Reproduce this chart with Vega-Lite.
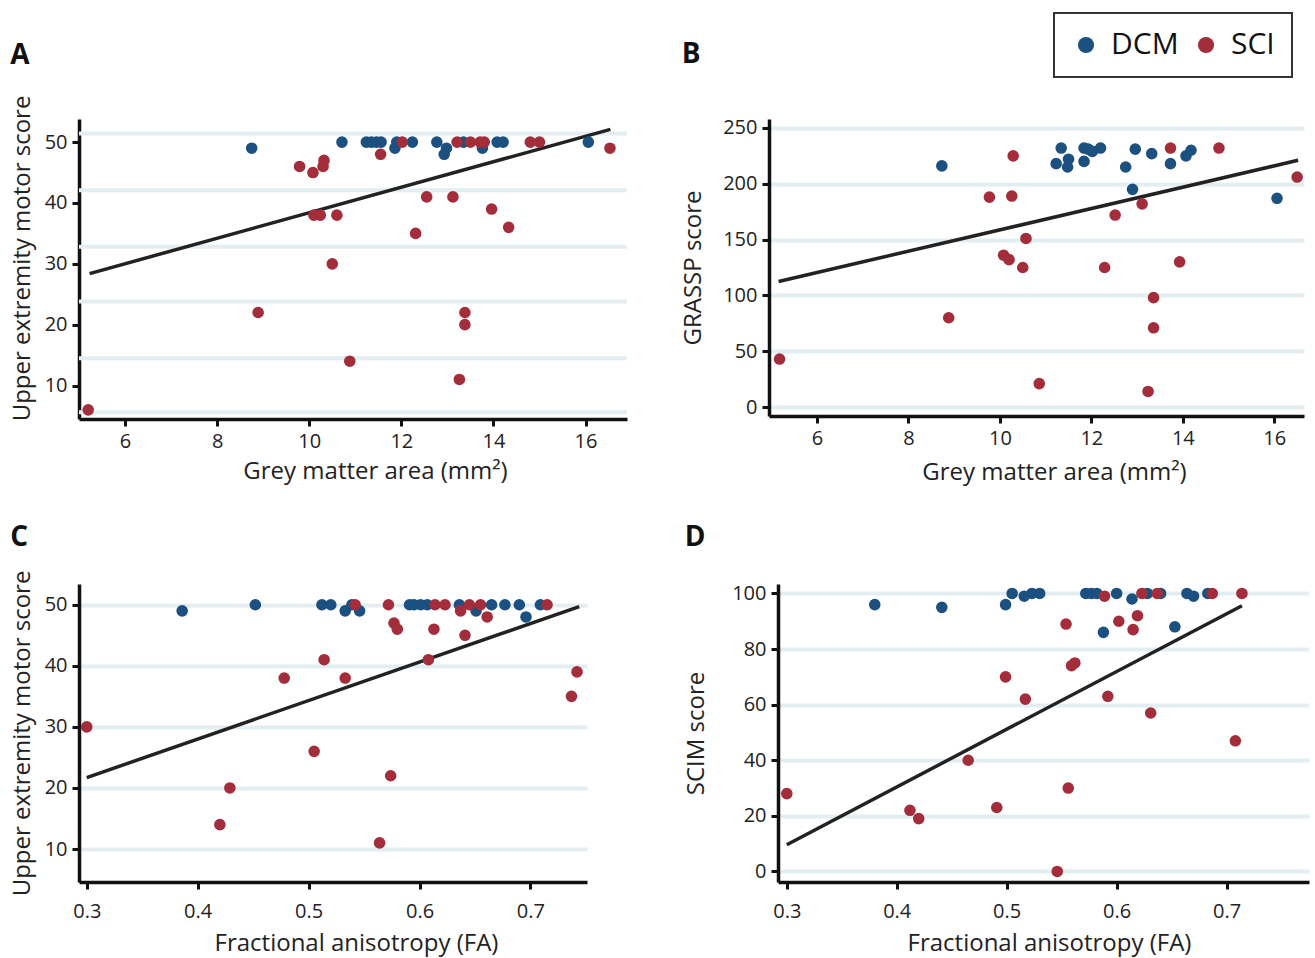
{
  "$schema": "https://vega.github.io/schema/vega-lite/v6.json",
  "background": "white",
  "padding": {"left": 10, "top": 12, "right": 5, "bottom": 5},
  "spacing": 40,
  "datasets": {
    "pts": [
      {"panel": "A", "group": "DCM", "x": 8.75, "y": 49}, {"panel": "A", "group": "DCM", "x": 10.71, "y": 50}, {"panel": "A", "group": "DCM", "x": 11.24, "y": 50}, {"panel": "A", "group": "DCM", "x": 11.35, "y": 50}, {"panel": "A", "group": "DCM", "x": 11.46, "y": 50}, {"panel": "A", "group": "DCM", "x": 11.56, "y": 50}, {"panel": "A", "group": "DCM", "x": 11.86, "y": 49}, {"panel": "A", "group": "DCM", "x": 11.9, "y": 50}, {"panel": "A", "group": "DCM", "x": 12.24, "y": 50}, {"panel": "A", "group": "DCM", "x": 12.77, "y": 50}, {"panel": "A", "group": "DCM", "x": 12.98, "y": 49}, {"panel": "A", "group": "DCM", "x": 12.93, "y": 48}, {"panel": "A", "group": "DCM", "x": 13.35, "y": 50}, {"panel": "A", "group": "DCM", "x": 13.76, "y": 49}, {"panel": "A", "group": "DCM", "x": 14.08, "y": 50}, {"panel": "A", "group": "DCM", "x": 14.21, "y": 50}, {"panel": "A", "group": "DCM", "x": 16.06, "y": 50},
      {"panel": "A", "group": "SCI", "x": 12.02, "y": 50}, {"panel": "A", "group": "SCI", "x": 13.21, "y": 50}, {"panel": "A", "group": "SCI", "x": 13.5, "y": 50}, {"panel": "A", "group": "SCI", "x": 13.71, "y": 50}, {"panel": "A", "group": "SCI", "x": 13.8, "y": 50}, {"panel": "A", "group": "SCI", "x": 14.8, "y": 50}, {"panel": "A", "group": "SCI", "x": 15.0, "y": 50}, {"panel": "A", "group": "SCI", "x": 16.53, "y": 49}, {"panel": "A", "group": "SCI", "x": 11.55, "y": 48}, {"panel": "A", "group": "SCI", "x": 9.79, "y": 46}, {"panel": "A", "group": "SCI", "x": 10.08, "y": 45}, {"panel": "A", "group": "SCI", "x": 10.3, "y": 46}, {"panel": "A", "group": "SCI", "x": 10.32, "y": 47}, {"panel": "A", "group": "SCI", "x": 12.55, "y": 41}, {"panel": "A", "group": "SCI", "x": 13.12, "y": 41}, {"panel": "A", "group": "SCI", "x": 13.96, "y": 39}, {"panel": "A", "group": "SCI", "x": 10.1, "y": 38}, {"panel": "A", "group": "SCI", "x": 10.24, "y": 38}, {"panel": "A", "group": "SCI", "x": 10.6, "y": 38}, {"panel": "A", "group": "SCI", "x": 14.33, "y": 36}, {"panel": "A", "group": "SCI", "x": 12.31, "y": 35}, {"panel": "A", "group": "SCI", "x": 10.5, "y": 30}, {"panel": "A", "group": "SCI", "x": 8.89, "y": 22}, {"panel": "A", "group": "SCI", "x": 13.38, "y": 22}, {"panel": "A", "group": "SCI", "x": 13.38, "y": 20}, {"panel": "A", "group": "SCI", "x": 10.88, "y": 14}, {"panel": "A", "group": "SCI", "x": 13.26, "y": 11}, {"panel": "A", "group": "SCI", "x": 5.2, "y": 6},
      {"panel": "B", "group": "DCM", "x": 8.73, "y": 216}, {"panel": "B", "group": "DCM", "x": 11.23, "y": 218}, {"panel": "B", "group": "DCM", "x": 11.34, "y": 232}, {"panel": "B", "group": "DCM", "x": 11.5, "y": 222}, {"panel": "B", "group": "DCM", "x": 11.48, "y": 215}, {"panel": "B", "group": "DCM", "x": 11.84, "y": 220}, {"panel": "B", "group": "DCM", "x": 11.84, "y": 232}, {"panel": "B", "group": "DCM", "x": 11.93, "y": 231}, {"panel": "B", "group": "DCM", "x": 12.02, "y": 229}, {"panel": "B", "group": "DCM", "x": 12.2, "y": 232}, {"panel": "B", "group": "DCM", "x": 12.75, "y": 215}, {"panel": "B", "group": "DCM", "x": 12.96, "y": 231}, {"panel": "B", "group": "DCM", "x": 12.9, "y": 195}, {"panel": "B", "group": "DCM", "x": 13.32, "y": 227}, {"panel": "B", "group": "DCM", "x": 13.73, "y": 218}, {"panel": "B", "group": "DCM", "x": 14.07, "y": 225}, {"panel": "B", "group": "DCM", "x": 14.18, "y": 230}, {"panel": "B", "group": "DCM", "x": 16.06, "y": 187},
      {"panel": "B", "group": "SCI", "x": 10.29, "y": 225}, {"panel": "B", "group": "SCI", "x": 13.73, "y": 232}, {"panel": "B", "group": "SCI", "x": 14.79, "y": 232}, {"panel": "B", "group": "SCI", "x": 16.5, "y": 206}, {"panel": "B", "group": "SCI", "x": 9.77, "y": 188}, {"panel": "B", "group": "SCI", "x": 10.26, "y": 189}, {"panel": "B", "group": "SCI", "x": 13.11, "y": 182}, {"panel": "B", "group": "SCI", "x": 12.52, "y": 172}, {"panel": "B", "group": "SCI", "x": 10.57, "y": 151}, {"panel": "B", "group": "SCI", "x": 10.08, "y": 136}, {"panel": "B", "group": "SCI", "x": 10.2, "y": 132}, {"panel": "B", "group": "SCI", "x": 10.5, "y": 125}, {"panel": "B", "group": "SCI", "x": 12.29, "y": 125}, {"panel": "B", "group": "SCI", "x": 13.93, "y": 130}, {"panel": "B", "group": "SCI", "x": 13.36, "y": 98}, {"panel": "B", "group": "SCI", "x": 13.36, "y": 71}, {"panel": "B", "group": "SCI", "x": 8.88, "y": 80}, {"panel": "B", "group": "SCI", "x": 5.18, "y": 43}, {"panel": "B", "group": "SCI", "x": 10.86, "y": 21}, {"panel": "B", "group": "SCI", "x": 13.24, "y": 14},
      {"panel": "C", "group": "DCM", "x": 0.386, "y": 49}, {"panel": "C", "group": "DCM", "x": 0.452, "y": 50}, {"panel": "C", "group": "DCM", "x": 0.512, "y": 50}, {"panel": "C", "group": "DCM", "x": 0.52, "y": 50}, {"panel": "C", "group": "DCM", "x": 0.533, "y": 49}, {"panel": "C", "group": "DCM", "x": 0.539, "y": 50}, {"panel": "C", "group": "DCM", "x": 0.546, "y": 49}, {"panel": "C", "group": "DCM", "x": 0.591, "y": 50}, {"panel": "C", "group": "DCM", "x": 0.595, "y": 50}, {"panel": "C", "group": "DCM", "x": 0.601, "y": 50}, {"panel": "C", "group": "DCM", "x": 0.607, "y": 50}, {"panel": "C", "group": "DCM", "x": 0.636, "y": 50}, {"panel": "C", "group": "DCM", "x": 0.651, "y": 49}, {"panel": "C", "group": "DCM", "x": 0.665, "y": 50}, {"panel": "C", "group": "DCM", "x": 0.677, "y": 50}, {"panel": "C", "group": "DCM", "x": 0.69, "y": 50}, {"panel": "C", "group": "DCM", "x": 0.696, "y": 48}, {"panel": "C", "group": "DCM", "x": 0.709, "y": 50},
      {"panel": "C", "group": "SCI", "x": 0.542, "y": 50}, {"panel": "C", "group": "SCI", "x": 0.572, "y": 50}, {"panel": "C", "group": "SCI", "x": 0.614, "y": 50}, {"panel": "C", "group": "SCI", "x": 0.623, "y": 50}, {"panel": "C", "group": "SCI", "x": 0.645, "y": 50}, {"panel": "C", "group": "SCI", "x": 0.655, "y": 50}, {"panel": "C", "group": "SCI", "x": 0.715, "y": 50}, {"panel": "C", "group": "SCI", "x": 0.637, "y": 49}, {"panel": "C", "group": "SCI", "x": 0.661, "y": 48}, {"panel": "C", "group": "SCI", "x": 0.577, "y": 47}, {"panel": "C", "group": "SCI", "x": 0.58, "y": 46}, {"panel": "C", "group": "SCI", "x": 0.613, "y": 46}, {"panel": "C", "group": "SCI", "x": 0.641, "y": 45}, {"panel": "C", "group": "SCI", "x": 0.514, "y": 41}, {"panel": "C", "group": "SCI", "x": 0.608, "y": 41}, {"panel": "C", "group": "SCI", "x": 0.478, "y": 38}, {"panel": "C", "group": "SCI", "x": 0.533, "y": 38}, {"panel": "C", "group": "SCI", "x": 0.742, "y": 39}, {"panel": "C", "group": "SCI", "x": 0.737, "y": 35}, {"panel": "C", "group": "SCI", "x": 0.3, "y": 30}, {"panel": "C", "group": "SCI", "x": 0.505, "y": 26}, {"panel": "C", "group": "SCI", "x": 0.574, "y": 22}, {"panel": "C", "group": "SCI", "x": 0.429, "y": 20}, {"panel": "C", "group": "SCI", "x": 0.42, "y": 14}, {"panel": "C", "group": "SCI", "x": 0.564, "y": 11},
      {"panel": "D", "group": "DCM", "x": 0.38, "y": 96}, {"panel": "D", "group": "DCM", "x": 0.441, "y": 95}, {"panel": "D", "group": "DCM", "x": 0.499, "y": 96}, {"panel": "D", "group": "DCM", "x": 0.505, "y": 100}, {"panel": "D", "group": "DCM", "x": 0.516, "y": 99}, {"panel": "D", "group": "DCM", "x": 0.523, "y": 100}, {"panel": "D", "group": "DCM", "x": 0.53, "y": 100}, {"panel": "D", "group": "DCM", "x": 0.572, "y": 100}, {"panel": "D", "group": "DCM", "x": 0.577, "y": 100}, {"panel": "D", "group": "DCM", "x": 0.582, "y": 100}, {"panel": "D", "group": "DCM", "x": 0.6, "y": 100}, {"panel": "D", "group": "DCM", "x": 0.588, "y": 86}, {"panel": "D", "group": "DCM", "x": 0.614, "y": 98}, {"panel": "D", "group": "DCM", "x": 0.628, "y": 100}, {"panel": "D", "group": "DCM", "x": 0.64, "y": 100}, {"panel": "D", "group": "DCM", "x": 0.653, "y": 88}, {"panel": "D", "group": "DCM", "x": 0.664, "y": 100}, {"panel": "D", "group": "DCM", "x": 0.67, "y": 99}, {"panel": "D", "group": "DCM", "x": 0.683, "y": 100},
      {"panel": "D", "group": "SCI", "x": 0.589, "y": 99}, {"panel": "D", "group": "SCI", "x": 0.623, "y": 100}, {"panel": "D", "group": "SCI", "x": 0.637, "y": 100}, {"panel": "D", "group": "SCI", "x": 0.687, "y": 100}, {"panel": "D", "group": "SCI", "x": 0.714, "y": 100}, {"panel": "D", "group": "SCI", "x": 0.554, "y": 89}, {"panel": "D", "group": "SCI", "x": 0.602, "y": 90}, {"panel": "D", "group": "SCI", "x": 0.619, "y": 92}, {"panel": "D", "group": "SCI", "x": 0.615, "y": 87}, {"panel": "D", "group": "SCI", "x": 0.559, "y": 74}, {"panel": "D", "group": "SCI", "x": 0.562, "y": 75}, {"panel": "D", "group": "SCI", "x": 0.499, "y": 70}, {"panel": "D", "group": "SCI", "x": 0.517, "y": 62}, {"panel": "D", "group": "SCI", "x": 0.592, "y": 63}, {"panel": "D", "group": "SCI", "x": 0.631, "y": 57}, {"panel": "D", "group": "SCI", "x": 0.708, "y": 47}, {"panel": "D", "group": "SCI", "x": 0.465, "y": 40}, {"panel": "D", "group": "SCI", "x": 0.3, "y": 28}, {"panel": "D", "group": "SCI", "x": 0.556, "y": 30}, {"panel": "D", "group": "SCI", "x": 0.412, "y": 22}, {"panel": "D", "group": "SCI", "x": 0.42, "y": 19}, {"panel": "D", "group": "SCI", "x": 0.491, "y": 23}, {"panel": "D", "group": "SCI", "x": 0.546, "y": 0}
    ],
    "fit": [
      {"panel": "A", "x": 5.23, "y": 28.4}, {"panel": "A", "x": 16.54, "y": 52.1},
      {"panel": "B", "x": 5.16, "y": 112.5}, {"panel": "B", "x": 16.52, "y": 221},
      {"panel": "C", "x": 0.3, "y": 21.7}, {"panel": "C", "x": 0.744, "y": 49.7},
      {"panel": "D", "x": 0.3, "y": 9.6}, {"panel": "D", "x": 0.714, "y": 95.6}
    ],
    "gridA": [{"y": 51.4}, {"y": 42.1}, {"y": 32.8}, {"y": 23.8}, {"y": 14.5}, {"y": 5.6}]
  },
  "vconcat": [
    {
      "bounds": "flush",
      "spacing": 142,
      "hconcat": [
        {
          "width": 548, "height": 300,
          "title": {"text": "A", "offset": 22},
          "layer": [
            {"data": {"name": "gridA"}, "mark": {"type": "rule", "color": "#e3eef3", "strokeWidth": 4}, "encoding": {"y": {"field": "y", "type": "quantitative"}}},
            {"data": {"name": "fit"}, "transform": [{"filter": "datum.panel === 'A'"}], "mark": {"type": "line", "color": "#222222", "strokeWidth": 3.5}, "encoding": {"x": {"field": "x", "type": "quantitative"}, "y": {"field": "y", "type": "quantitative"}}},
            {"data": {"name": "pts"}, "transform": [{"filter": "datum.panel === 'A'"}], "mark": {"type": "circle", "size": 135, "opacity": 1},
             "encoding": {
               "x": {"field": "x", "type": "quantitative", "scale": {"domain": [5, 16.9], "nice": false, "zero": false}, "axis": {"values": [6, 8, 10, 12, 14, 16], "title": "Grey matter area (mm²)", "titleX": 296, "titlePadding": 8}},
               "y": {"field": "y", "type": "quantitative", "scale": {"domain": [4.5, 53.8], "nice": false, "zero": false}, "axis": {"values": [10, 20, 30, 40, 50], "title": "Upper extremity  motor score", "titlePadding": 10, "titleY": 139}},
               "color": {"field": "group", "type": "nominal", "scale": {"domain": ["DCM", "SCI"], "range": ["#1b5080", "#a32d3a"]}, "legend": {"orient": "none", "legendX": 975, "legendY": -106, "direction": "horizontal", "title": null}}
             }}
          ]
        },
        {
          "width": 535, "height": 297,
          "title": {"text": "B", "offset": 49},
          "layer": [
            {"data": {"name": "fit"}, "transform": [{"filter": "datum.panel === 'B'"}], "mark": {"type": "line", "color": "#222222", "strokeWidth": 3.5}, "encoding": {"x": {"field": "x", "type": "quantitative"}, "y": {"field": "y", "type": "quantitative"}}},
            {"data": {"name": "pts"}, "transform": [{"filter": "datum.panel === 'B'"}], "mark": {"type": "circle", "size": 135, "opacity": 1},
             "encoding": {
               "x": {"field": "x", "type": "quantitative", "scale": {"domain": [4.95, 16.65], "nice": false, "zero": false}, "axis": {"values": [6, 8, 10, 12, 14, 16], "title": "Grey matter area (mm²)", "titleX": 285, "titlePadding": 12}},
               "y": {"field": "y", "type": "quantitative", "scale": {"domain": [-8, 258], "nice": false, "zero": false}, "axis": {"values": [0, 50, 100, 150, 200, 250], "title": "GRASSP score", "titlePadding": 17, "grid": true}},
               "color": {"field": "group", "type": "nominal", "scale": {"domain": ["DCM", "SCI"], "range": ["#1b5080", "#a32d3a"]}, "legend": {"orient": "none", "legendX": 975, "legendY": -106, "direction": "horizontal", "title": null}}
             }}
          ]
        }
      ]
    },
    {
      "bounds": "flush",
      "spacing": 191,
      "hconcat": [
        {
          "width": 508, "height": 298,
          "title": {"text": "C", "offset": 18},
          "layer": [
            {"data": {"name": "fit"}, "transform": [{"filter": "datum.panel === 'C'"}], "mark": {"type": "line", "color": "#222222", "strokeWidth": 3.5}, "encoding": {"x": {"field": "x", "type": "quantitative"}, "y": {"field": "y", "type": "quantitative"}}},
            {"data": {"name": "pts"}, "transform": [{"filter": "datum.panel === 'C'"}], "mark": {"type": "circle", "size": 135, "opacity": 1},
             "encoding": {
               "x": {"field": "x", "type": "quantitative", "scale": {"domain": [0.293, 0.751], "nice": false, "zero": false}, "axis": {"values": [0.3, 0.4, 0.5, 0.6, 0.7], "format": ".1f", "title": "Fractional anisotropy (FA)", "titleX": 277, "labelPadding": 12, "titlePadding": 10}},
               "y": {"field": "y", "type": "quantitative", "scale": {"domain": [4.6, 53.4], "nice": false, "zero": false}, "axis": {"values": [10, 20, 30, 40, 50], "title": "Upper extremity motor score", "titlePadding": 10, "titleY": 149, "grid": true}},
               "color": {"field": "group", "type": "nominal", "scale": {"domain": ["DCM", "SCI"], "range": ["#1b5080", "#a32d3a"]}, "legend": {"orient": "none", "legendX": 975, "legendY": -106, "direction": "horizontal", "title": null}}
             }}
          ]
        },
        {
          "width": 531, "height": 298,
          "title": {"text": "D", "offset": 31},
          "layer": [
            {"data": {"name": "fit"}, "transform": [{"filter": "datum.panel === 'D'"}], "mark": {"type": "line", "color": "#222222", "strokeWidth": 3.5}, "encoding": {"x": {"field": "x", "type": "quantitative"}, "y": {"field": "y", "type": "quantitative"}}},
            {"data": {"name": "pts"}, "transform": [{"filter": "datum.panel === 'D'"}], "mark": {"type": "circle", "size": 135, "opacity": 1},
             "encoding": {
               "x": {"field": "x", "type": "quantitative", "scale": {"domain": [0.292, 0.775], "nice": false, "zero": false}, "axis": {"values": [0.3, 0.4, 0.5, 0.6, 0.7], "format": ".1f", "title": "Fractional anisotropy (FA)", "titleX": 271, "labelPadding": 12, "titlePadding": 10}},
               "y": {"field": "y", "type": "quantitative", "scale": {"domain": [-3.8, 103.4], "nice": false, "zero": false}, "axis": {"values": [0, 20, 40, 60, 80, 100], "title": "SCIM score", "titlePadding": 23, "grid": true}},
               "color": {"field": "group", "type": "nominal", "scale": {"domain": ["DCM", "SCI"], "range": ["#1b5080", "#a32d3a"]}, "legend": {"orient": "none", "legendX": 975, "legendY": -106, "direction": "horizontal", "title": null}}
             }}
          ]
        }
      ]
    }
  ],
  "config": {
    "view": {"stroke": null},
    "title": {"anchor": "start", "frame": "bounds", "font": "Open Sans", "fontSize": 28, "fontWeight": "bold", "color": "#111111"},
    "axis": {
      "domainColor": "#111111", "domainWidth": 3.5,
      "tickColor": "#111111", "tickWidth": 3, "tickSize": 7,
      "labelFont": "Open Sans", "labelFontSize": 20, "labelColor": "#222222", "labelPadding": 5,
      "titleFont": "Open Sans", "titleFontSize": 24, "titleColor": "#222222", "titleFontWeight": "normal", "titlePadding": 6,
      "grid": false, "gridColor": "#e3eef3", "gridWidth": 4
    },
    "legend": {
      "strokeColor": "#333333", "strokeWidth": 2, "fillColor": "white", "padding": 17,
      "labelFont": "Open Sans", "labelFontSize": 30, "labelColor": "#111111",
      "symbolType": "circle", "symbolSize": 260, "symbolStrokeWidth": 0, "symbolOpacity": 1,
      "columnPadding": 12, "labelOffset": 10
    }
  }
}
